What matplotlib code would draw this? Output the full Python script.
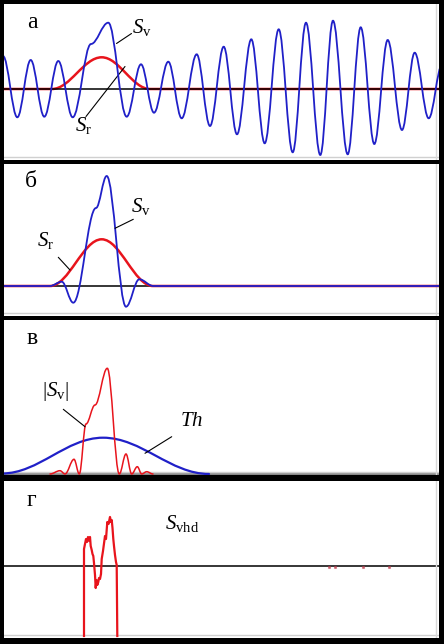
import matplotlib.pyplot as plt
from matplotlib.path import Path
from matplotlib.patches import PathPatch

# --- данные (x - отсчёты, y - амплитуда от нулевой линии) ---
# панель а
a_sv_x = [3, 17.3, 30.7, 44.3, 58.3, 72.7, 91, 108.3, 126.7, 141, 154, 168.3, 181.7,
          196.7, 210, 223.7, 237, 251.3, 264.7, 278.7, 292.7, 306, 320.3, 333, 347.7,
          360.7, 374.3, 387.7, 402, 414.7, 428.7, 442]
a_sv_y = [33, -28.3, 29, -27.7, 28, -28.3, 45, 66.3, -27.7, 24.7, -23.7, 27.3, -29.3,
          34.7, -37, 42.3, -45.3, 49.7, -54.3, 59.7, -63.3, 66.3, -66, 68.3, -65.3,
          61.7, -55, 49, -41, 36.3, -29.3, 24]
a_sr_x = [4, 52, 101.7, 150, 440]
a_sr_y = [0, 0, 31.7, 0, 0]

# панель б
b_sv_x = [4, 50, 61.7, 73.3, 96, 106.7, 126, 139.3, 153.3, 440]
b_sv_y = [0, 0, 4.3, -16.7, 78, 110, -20.7, 6.7, 0, 0]
b_sr_x = [4, 50, 101.7, 153, 440]
b_sr_y = [0, 0, 46.7, 0, 0]

# панель в
v_abs_x = [50, 60, 65, 74, 79.3, 86, 95, 107.3, 119.3, 126, 131.7, 137.3, 141.7, 146.7, 153]
v_abs_y = [0, 3.3, 0, 14.7, 0, 50, 69, 105.7, 0, 20, 0, 7.3, 0, 2.3, 0]
v_th_x = [2, 103, 209]
v_th_y = [0.5, 36.3, 0]

# панель г
g_x = [84, 84, 85, 86, 87, 88, 89.3, 90, 90.7, 91.7, 92.5, 93.3, 94, 95, 95.7, 96.5,
       97.3, 98.3, 99, 100, 101, 101.7, 103, 105, 106, 107.3, 108.5, 110, 111, 111.7,
       112.5, 113.3, 114, 115, 116, 116.7, 117.3]
g_y = [-70, 17, 22, 27, 24, 29, 25, 29, 20, 16, 12, 10, 3, -9, -22, -14, -19, -16,
       -12, -13, -8, 7, 15, 30, 27, 44, 42, 49, 44, 46, 38, 27, 20, 11, 4, 1, -70]
g_dots_x = [329, 335, 363, 389]
g_dots_y = [-1, -1, -1, -1]

W, H = 444, 644
BLUE = '#2020c8'
RED = '#e8141c'

plt.rcParams['mathtext.fontset'] = 'custom'
plt.rcParams['mathtext.rm'] = 'Liberation Serif'
plt.rcParams['mathtext.it'] = 'Liberation Serif:italic'
plt.rcParams['font.family'] = ['Liberation Serif', 'DejaVu Serif']

fig = plt.figure(figsize=(W / 100, H / 100), dpi=100, facecolor='black')


def panel(top, bottom, base, left=4, right=439):
    ax = fig.add_axes([left / W, 1 - bottom / H, (right - left) / W, (bottom - top) / H])
    ax.set_facecolor('white')
    ax.set_xlim(left, right)
    ax.set_ylim(base - bottom, base - top)
    ax.set_xticks([])
    ax.set_yticks([])
    for s in ax.spines.values():
        s.set_visible(False)
    # светло-серая внутренняя рамка справа и снизу
    ax.plot([0, 1], [0.02, 0.02], transform=ax.transAxes, color='#d0d0d0', lw=1)
    ax.plot([0.992, 0.992], [0, 1], transform=ax.transAxes, color='#d8d8d8', lw=1)
    return ax


def smooth(ax, xs, ys, k=0.364, **kw):
    # кривые Безье с горизонтальными касательными в узлах
    verts = [(xs[0], ys[0])]
    codes = [Path.MOVETO]
    for i in range(1, len(xs)):
        dx = xs[i] - xs[i - 1]
        verts += [(xs[i - 1] + k * dx, ys[i - 1]), (xs[i] - k * dx, ys[i]), (xs[i], ys[i])]
        codes += [Path.CURVE4] * 3
    ax.add_patch(PathPatch(Path(verts, codes), fill=False, capstyle='round', **kw))


def label(ax, base, txt, pos, start=None, end=None, size=15):
    # pos/start/end - в пикселях картинки (x, y сверху)
    ax.text(pos[0], base - pos[1], txt, fontsize=size, ha='center', va='center')
    if start is not None:
        ax.annotate('', xy=(end[0], base - end[1]), xytext=(start[0], base - start[1]),
                    arrowprops=dict(arrowstyle='-', color='black', lw=0.8,
                                    shrinkA=0, shrinkB=0))


# ---- а ----
ax = panel(4, 160, 89)
smooth(ax, a_sr_x, a_sr_y, color=RED, lw=1.8, zorder=2)
ax.axhline(0, color='black', lw=1.1, zorder=3)
smooth(ax, a_sv_x, a_sv_y, color=BLUE, lw=1.3, zorder=4)
label(ax, 89, 'а', (32, 22), size=17)
label(ax, 89, r'$S_{\rm v}$', (142, 28), (131.5, 33.5), (116.5, 43.5))
label(ax, 89, r'$S_{\rm r}$', (84, 126), (86, 116.5), (125, 66.5))

# ---- б ----
ax = panel(164, 316, 286)
ax.axhline(0, color='black', lw=1.1, zorder=1)
smooth(ax, b_sr_x, b_sr_y, color=RED, lw=1.8, zorder=2)
smooth(ax, b_sv_x, b_sv_y, color=BLUE, lw=1.3, zorder=3)
label(ax, 286, 'б', (31, 182), size=17)
label(ax, 286, r'$S_{\rm v}$', (141, 207), (133.3, 219.3), (115, 228.3))
label(ax, 286, r'$S_{\rm r}$', (46, 241), (58.3, 257.3), (70, 270))

# ---- в ----
ax = panel(320, 475, 474)
ax.axhline(0, color='#888888', lw=2, zorder=1)
smooth(ax, v_th_x, v_th_y, color=BLUE, lw=1.6, zorder=2)
smooth(ax, v_abs_x, v_abs_y, color=RED, lw=1.1, zorder=3)
label(ax, 474, 'в', (32, 339), size=17)
label(ax, 474, r'$|S_{\rm v}|$', (56, 392), (63.3, 409.3), (85, 426.7))
label(ax, 474, r'$Th$', (192, 422), (171.7, 436.7), (145, 453.3))

# ---- г ----
ax = panel(481, 638, 566)
ax.axhline(0, color='black', lw=1.1, zorder=1)
ax.plot(g_x, g_y, color=RED, lw=1.6, zorder=2)
ax.plot(g_dots_x, g_dots_y, 's', color='#c04050', ms=1.2, alpha=0.6, zorder=2)
label(ax, 566, 'г', (31, 500), size=17)
label(ax, 566, r'$S_{\rm vhd}$', (182, 524))

fig.savefig('out.png', dpi=100, facecolor='black')
